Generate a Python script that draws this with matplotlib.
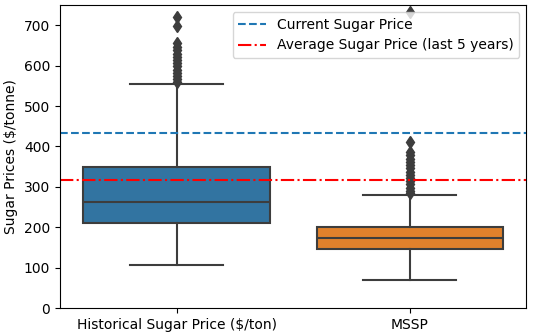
import matplotlib
matplotlib.use("Agg")
import matplotlib.pyplot as plt

categories = ["Historical Sugar Price ($/ton)", "MSSP"]
box_colors = ["#3274A1", "#E1812C"]
whislo = [107, 70]
q1 = [211, 147]
med = [263, 174]
q3 = [349, 201]
whishi = [554, 280]
outliers_hist = [720, 699, 655, 647, 638, 630, 622, 614, 606, 598, 590, 582, 574, 566, 560]
outliers_mssp = [733, 411, 386, 378, 370, 362, 354, 346, 338, 330, 322, 314, 306, 298, 290, 285]
current_price = 433
average_price = 317

fig, ax = plt.subplots(figsize=(5.36, 3.36), dpi=100)
fig.subplots_adjust(left=0.112, right=0.982, top=0.985, bottom=0.083)

stats = []
for i, name in enumerate(categories):
    stats.append(dict(label=name, whislo=whislo[i], q1=q1[i], med=med[i], q3=q3[i],
                      whishi=whishi[i],
                      fliers=outliers_hist if i == 0 else outliers_mssp))

gray = "#3d3d3d"
bp = ax.bxp(stats, positions=range(len(categories)), widths=0.8, patch_artist=True,
            boxprops=dict(edgecolor=gray, linewidth=1.5),
            medianprops=dict(color=gray, linewidth=1.5),
            whiskerprops=dict(color=gray, linewidth=1.5),
            capprops=dict(color=gray, linewidth=1.5),
            flierprops=dict(marker="d", markerfacecolor=gray, markeredgecolor=gray,
                            markersize=6, linestyle="none"))
for patch, c in zip(bp["boxes"], box_colors):
    patch.set_facecolor(c)

ax.axhline(current_price, color="#1f77b4", linestyle="--", linewidth=1.5,
           label="Current Sugar Price")
ax.axhline(average_price, color="red", linestyle="-.", linewidth=1.5,
           label="Average Sugar Price (last 5 years)")

ax.set_xlim(-0.5, 1.5)
ax.set_ylim(0, 750)
ax.set_yticks([0, 100, 200, 300, 400, 500, 600, 700])
ax.set_xticks([0, 1])
ax.set_xticklabels(categories)
ax.set_ylabel("Sugar Prices ($/tonne)")
leg = ax.legend(loc="upper right")
leg.set_zorder(10)

fig.savefig("out.png", dpi=100)
